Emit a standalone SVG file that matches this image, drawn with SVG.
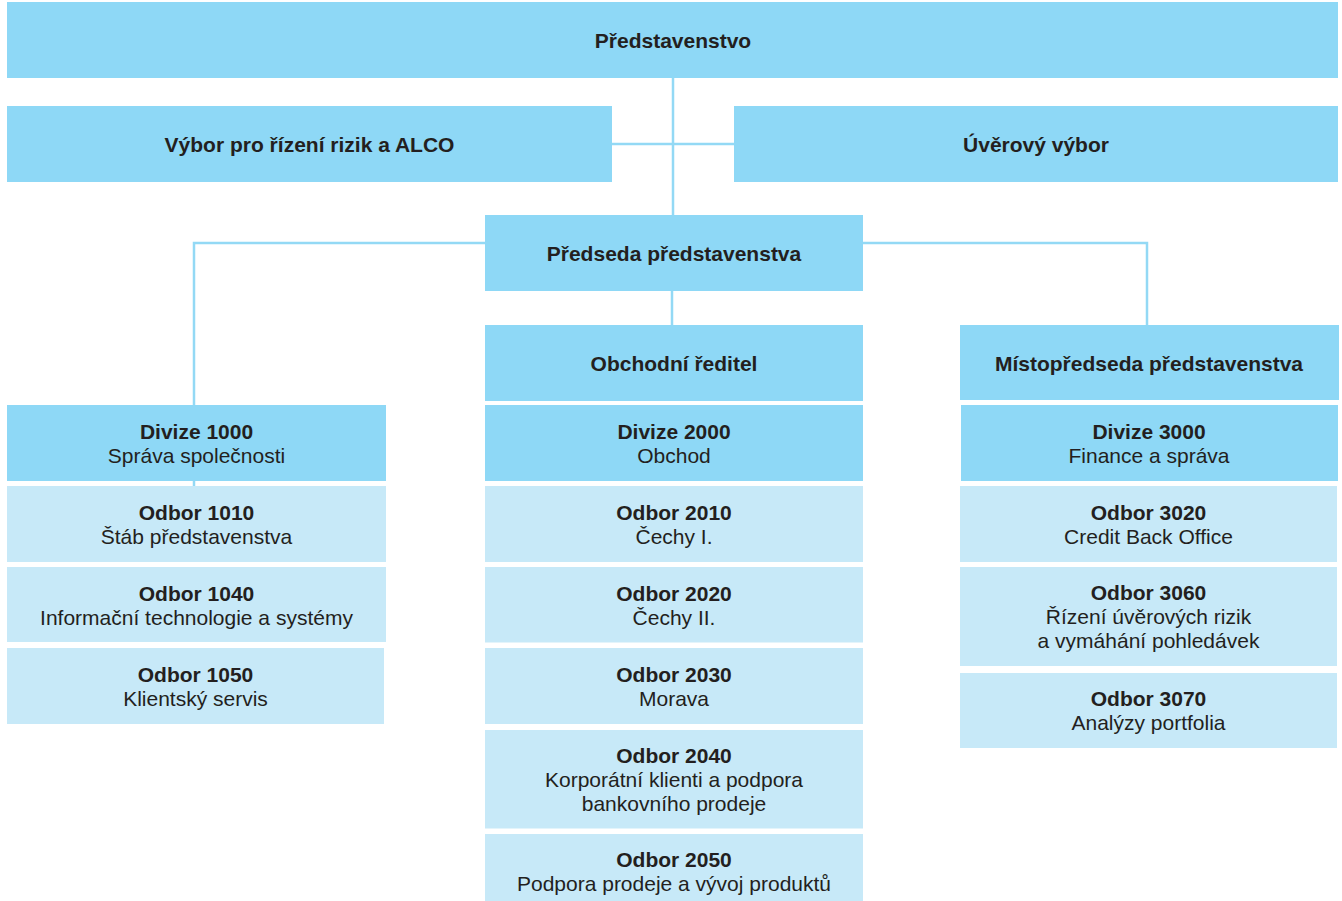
<svg xmlns="http://www.w3.org/2000/svg" width="1342" height="901" viewBox="0 0 1342 901">
<style>
  .d { fill: #8ed8f6; }
  .l { fill: #c7e9f8; }
  text { font-family: "Liberation Sans", Arial, sans-serif; font-size: 21px; fill: #231f20; text-anchor: middle; }
  .b { font-weight: bold; }
  .conn { stroke: #93d9f5; stroke-width: 2.5; fill: none; }
</style>
<rect width="1342" height="901" fill="#ffffff"/>
<g id="connectors">
  <line class="conn" x1="673" y1="78" x2="673" y2="215"/>
  <line class="conn" x1="612" y1="144" x2="734" y2="144"/>
  <polyline class="conn" points="485,243 194,243 194,486"/>
  <polyline class="conn" points="863,243 1147,243 1147,325"/>
  <line class="conn" x1="672" y1="291" x2="672" y2="325"/>
</g>
<g id="n-predstavenstvo"><rect class="d" x="7" y="2" width="1331" height="76"/><text class="b" x="673" y="48">Představenstvo</text></g>
<g id="n-vybor"><rect class="d" x="7" y="106" width="605" height="76"/><text class="b" x="309.5" y="152">Výbor pro řízení rizik a ALCO</text></g>
<g id="n-uverovy"><rect class="d" x="734" y="106" width="604" height="76"/><text class="b" x="1036" y="152">Úvěrový výbor</text></g>
<g id="n-predseda"><rect class="d" x="485" y="215" width="378" height="76"/><text class="b" x="674" y="261">Předseda představenstva</text></g>
<g id="n-obchodni"><rect class="d" x="485" y="325" width="378" height="76"/><text class="b" x="674" y="371">Obchodní ředitel</text></g>
<g id="n-mistopredseda"><rect class="d" x="960" y="325" width="379" height="75"/><text class="b" x="1149" y="371">Místopředseda představenstva</text></g>

<g id="n-d1000"><rect class="d" x="7" y="405" width="379" height="76"/><text class="b" x="196.5" y="439">Divize 1000</text><text x="196.5" y="463">Správa společnosti</text></g>
<g id="n-o1010"><rect class="l" x="7" y="486" width="379" height="76"/><text class="b" x="196.5" y="520">Odbor 1010</text><text x="196.5" y="544">Štáb představenstva</text></g>
<g id="n-o1040"><rect class="l" x="7" y="567" width="379" height="75"/><text class="b" x="196.5" y="601">Odbor 1040</text><text x="196.5" y="625">Informační technologie a systémy</text></g>
<g id="n-o1050"><rect class="l" x="7" y="648" width="377" height="76"/><text class="b" x="195.5" y="682">Odbor 1050</text><text x="195.5" y="706">Klientský servis</text></g>

<g id="n-d2000"><rect class="d" x="485" y="405" width="378" height="76"/><text class="b" x="674" y="439">Divize 2000</text><text x="674" y="463">Obchod</text></g>
<g id="n-o2010"><rect class="l" x="485" y="486" width="378" height="76"/><text class="b" x="674" y="520">Odbor 2010</text><text x="674" y="544">Čechy I.</text></g>
<g id="n-o2020"><rect class="l" x="485" y="567" width="378" height="75.5"/><text class="b" x="674" y="601">Odbor 2020</text><text x="674" y="625">Čechy II.</text></g>
<g id="n-o2030"><rect class="l" x="485" y="648" width="378" height="76"/><text class="b" x="674" y="682">Odbor 2030</text><text x="674" y="706">Morava</text></g>
<g id="n-o2040"><rect class="l" x="485" y="730" width="378" height="98.5"/><text class="b" x="674" y="763">Odbor 2040</text><text x="674" y="787">Korporátní klienti a podpora</text><text x="674" y="811">bankovního prodeje</text></g>
<g id="n-o2050"><rect class="l" x="485" y="834" width="378" height="67"/><text class="b" x="674" y="867">Odbor 2050</text><text x="674" y="891">Podpora prodeje a vývoj produktů</text></g>

<g id="n-d3000"><rect class="d" x="961" y="405" width="377" height="76"/><text class="b" x="1149" y="439">Divize 3000</text><text x="1149" y="463">Finance a správa</text></g>
<g id="n-o3020"><rect class="l" x="960" y="486" width="377" height="76"/><text class="b" x="1148.5" y="520">Odbor 3020</text><text x="1148.5" y="544">Credit Back Office</text></g>
<g id="n-o3060"><rect class="l" x="960" y="567" width="377" height="99"/><text class="b" x="1148.5" y="600">Odbor 3060</text><text x="1148.5" y="624">Řízení úvěrových rizik</text><text x="1148.5" y="648">a vymáhání pohledávek</text></g>
<g id="n-o3070"><rect class="l" x="960" y="673" width="377" height="75"/><text class="b" x="1148.5" y="706">Odbor 3070</text><text x="1148.5" y="730">Analýzy portfolia</text></g>
</svg>
